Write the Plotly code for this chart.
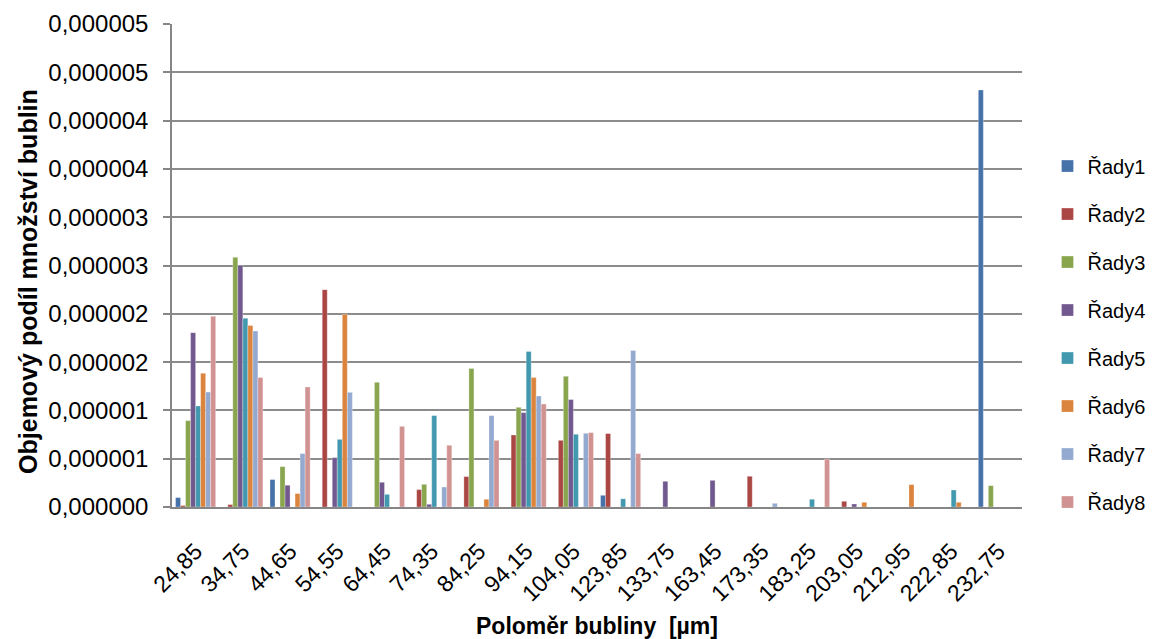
import plotly.graph_objects as go

categories = ["24,85", "34,75", "44,65", "54,55", "64,45", "74,35", "84,25", "94,15", "104,05",
              "123,85", "133,75", "163,45", "173,35", "183,25", "203,05", "212,95", "222,85", "232,75"]

series_names = ["Řady1", "Řady2", "Řady3", "Řady4", "Řady5", "Řady6", "Řady7", "Řady8"]

rady1 = [0.097e-6, 0, 0.284e-6, 0, 0, 0, 0, 0, 0, 0.121e-6, 0, 0, 0, 0, 0, 0, 0, 4.317e-6]
rady2 = [0.015e-6, 0.025e-6, 0, 2.25e-6, 0, 0.18e-6, 0.315e-6, 0.745e-6, 0.69e-6, 0.76e-6, 0, 0, 0.318e-6, 0, 0.059e-6, 0, 0, 0]
rady3 = [0.894e-6, 2.585e-6, 0.418e-6, 0, 1.291e-6, 0.235e-6, 1.433e-6, 1.032e-6, 1.353e-6, 0, 0, 0, 0, 0, 0, 0, 0, 0.221e-6]
rady4 = [1.805e-6, 2.502e-6, 0.225e-6, 0.511e-6, 0.256e-6, 0.028e-6, 0, 0.977e-6, 1.112e-6, 0, 0.266e-6, 0.276e-6, 0, 0, 0.031e-6, 0, 0, 0]
rady5 = [1.046e-6, 1.953e-6, 0, 0.70e-6, 0.131e-6, 0.946e-6, 0, 1.609e-6, 0.753e-6, 0.085e-6, 0, 0, 0, 0.08e-6, 0, 0, 0.176e-6, 0]
rady6 = [1.384e-6, 1.878e-6, 0.139e-6, 1.995e-6, 0, 0, 0.08e-6, 1.34e-6, 0, 0, 0, 0, 0, 0, 0.049e-6, 0.232e-6, 0.049e-6, 0]
rady7 = [1.19e-6, 1.822e-6, 0.553e-6, 1.187e-6, 0, 0.207e-6, 0.946e-6, 1.149e-6, 0.763e-6, 1.62e-6, 0, 0, 0.038e-6, 0, 0, 0, 0, 0]
rady8 = [1.974e-6, 1.34e-6, 1.242e-6, 0, 0.835e-6, 0.639e-6, 0.69e-6, 1.066e-6, 0.77e-6, 0.553e-6, 0, 0, 0, 0.497e-6, 0, 0, 0, 0]

series_values = [rady1, rady2, rady3, rady4, rady5, rady6, rady7, rady8]
colors = ["#4672AA", "#AA4643", "#89A54E", "#71588F", "#4198AF", "#DB843D", "#93A9CF", "#D19392"]

y_tick_values = [0, 0.5e-6, 1.0e-6, 1.5e-6, 2.0e-6, 2.5e-6, 3.0e-6, 3.5e-6, 4.0e-6, 4.5e-6, 5.0e-6]
y_tick_labels = ["0,000000", "0,000001", "0,000001", "0,000002", "0,000002", "0,000003",
                 "0,000003", "0,000004", "0,000004", "0,000005", "0,000005"]

x_title = "Poloměr bubliny  [µm]"
y_title = "Objemový podíl množství bublin"

FONT = "Liberation Sans"

fig = go.Figure()
for name, vals, col in zip(series_names, series_values, colors):
    fig.add_trace(go.Bar(
        x=categories, y=vals, name=name, legendgroup=name,
        marker=dict(color=col, line=dict(color="rgba(255,255,255,0.6)", width=0.5)),
    ))

fig.add_annotation(
    text="<b>" + y_title + "</b>", textangle=-90,
    xref="paper", yref="paper", x=-0.1694, y=0.466,
    xanchor="center", yanchor="middle", showarrow=False,
    font=dict(size=25, family=FONT, color="black"),
)

fig.update_layout(
    width=1150, height=631,
    paper_bgcolor="white", plot_bgcolor="white",
    margin=dict(l=164, r=136, t=16, b=132, autoexpand=False),
    barmode="group", bargap=0.15, bargroupgap=0,
    font=dict(family=FONT, color="black", size=22),
    showlegend=True,
    legend=dict(
        x=1.03, xanchor="left", y=0.358, yanchor="middle",
        xref="paper", yref="paper",
        font=dict(size=20, family=FONT),
        tracegroupgap=19, itemwidth=30,
        bgcolor="rgba(0,0,0,0)",
    ),
    xaxis=dict(
        type="category", tickangle=-45, automargin=False,
        tickfont=dict(size=23, family=FONT),
        showline=True, linecolor="#868686", linewidth=1.5,
        showgrid=False, ticks="",
        ticklabelstandoff=20,
        title=dict(text="<b>" + x_title + "</b>", font=dict(size=23, family=FONT), standoff=15),
    ),
    yaxis=dict(
        range=[0, 5e-6], tickvals=y_tick_values, ticktext=y_tick_labels,
        automargin=False,
        tickfont=dict(size=24, family=FONT),
        showline=True, linecolor="#868686", linewidth=1.5,
        ticks="outside", ticklen=7, tickcolor="#868686", tickwidth=1.5,
        ticklabelstandoff=10,
        showgrid=True, gridcolor="#8C8C8C", gridwidth=1.5,
        zeroline=False,
    ),
)

fig.write_html("out.html")
